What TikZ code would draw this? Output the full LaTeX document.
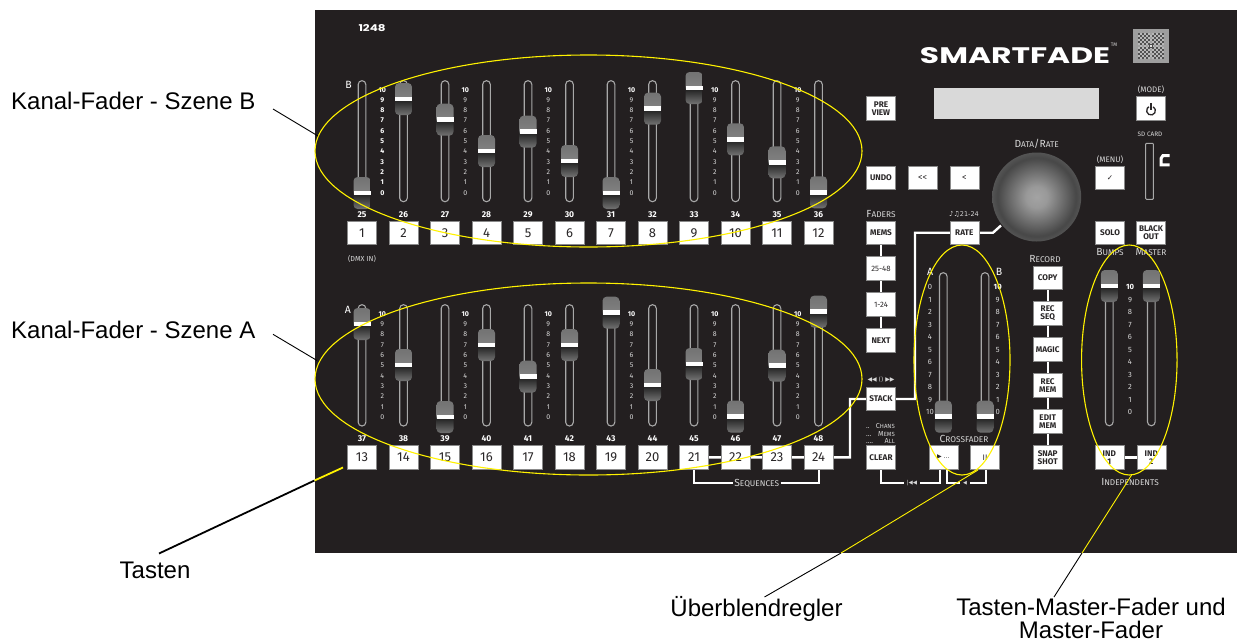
\documentclass[tikz,border=0pt]{standalone}
\usepackage{fontspec}
\usetikzlibrary{shapes.geometric,calc}
\setmainfont{Fira Sans}
\newfontfamily\labf{Liberation Sans}
\newfontfamily\djv{DejaVu Sans}
\newfontfamily\popf{Poppins}
\definecolor{panelc}{HTML}{231F20}
\definecolor{yel}{HTML}{FFF200}
\definecolor{trackc}{HTML}{A8A8A8}
\definecolor{keyedge}{HTML}{8A8A8A}
\definecolor{keytxt}{HTML}{2A2728}
\definecolor{silk}{HTML}{D8D8D8}
\pgfdeclareverticalshading{knobshade}{100bp}{
 color(0bp)=(black!68!white);
 color(6bp)=(black!55!white);
 color(25bp)=(black!55!white);
 color(47bp)=(black!85!white);
 color(53bp)=(black!50!white);
 color(75bp)=(black!55!white);
 color(100bp)=(black!72!white)}
\pgfdeclareradialshading{dialshade}{\pgfpoint{0bp}{0bp}}{
 color(0bp)=(black!36!white);
 color(6bp)=(black!40!white);
 color(22bp)=(black!72!white);
 color(36bp)=(black!50!white);
 color(44bp)=(black!65!white);
 color(50bp)=(black!85!white);
 color(100bp)=(black!85!white)}
\newcommand{\spc}[2]{{\fontsize{10.3}{11}\selectfont #1}{\fontsize{8.3}{9}\selectfont #2}}
\newcommand{\faderdraw}[4]{%
 \pgfmathsetmacro{\kt}{#4-16}\pgfmathsetmacro{\kb}{#4+16}%
 \pgfmathsetmacro{\kl}{#1-8.5}\pgfmathsetmacro{\kr}{#1+8.5}%
 \draw[trackline] (#1-3.8,#2) rectangle (#1+3.8,#3);
 \shade[shading=knobshade,rounded corners=4pt] (\kl,\kt) rectangle (\kr,\kb);
 \fill[white] (\kl,#4-2.4) rectangle (\kr,#4+2.4);
}
\tikzset{
 x=1pt,y=-1pt,
 trackline/.style={draw=trackc,line width=1.1pt,rounded corners=3.7pt},
 numkey/.style={draw=keyedge,fill=white,line width=.6pt,minimum width=29pt,minimum height=23.5pt,inner sep=0pt,text=keytxt,font=\fontsize{13}{13}\selectfont\fontseries{l}\selectfont},
 fnkey/.style={draw=keyedge,fill=white,line width=.6pt,minimum width=29pt,minimum height=23.5pt,inner sep=0pt,text=keytxt,align=center,font=\fontsize{8.2}{7.8}\selectfont\bfseries},
 silklbl/.style={text=silk,inner sep=0pt,font=\fontsize{8}{9}\selectfont},
 scaletxt/.style={text=silk,inner sep=0pt,font=\fontsize{7}{8}\selectfont},
 numlbl/.style={text=white,inner sep=0pt,font=\fontsize{8.5}{9}\selectfont\bfseries},
 wire/.style={draw=white,line width=2.4pt},
 bracket/.style={draw=white,line width=2pt},
 calloutlbl/.style={text=black,inner sep=0pt,align=center,font=\labf\fontsize{24}{22.5}\selectfont},
 ringy/.style={draw=yel,line width=1.1pt,ellipse,inner sep=0pt,fill=none},
 leaderk/.style={draw=black,line width=.9pt},
 leadery/.style={draw=yel,line width=.9pt},
}
\begin{document}
\begin{tikzpicture}
\useasboundingbox (0,0) rectangle (1239,643);
\fill[white] (0,0) rectangle (1239,643);
\fill[panelc] (315,10) rectangle (1237,553);
%
% channel faders
\foreach \idx/\barb in {0/193,1/99,2/119.7,3/151,4/131.7,5/161,6/193,7/108.7,8/88,9/139.3,10/162.3,11/192.3}{
 \pgfmathsetmacro{\fx}{362+41.5*\idx}
 \faderdraw{\fx}{80.7}{201.7}{\barb}
}
\foreach \idx/\barb in {0/324,1/365,2/417,3/345,4/376.7,5/345,6/312.7,7/385,8/364,9/416.7,10/365.7,11/311.7}{
 \pgfmathsetmacro{\fx}{362+41.5*\idx}
 \faderdraw{\fx}{304.7}{426}{\barb}
}
% crossfader and master faders
\faderdraw{943.3}{272.7}{426}{416.7}
\faderdraw{985}{272.7}{426}{416.7}
\faderdraw{1109.3}{272.7}{425.7}{286}
\faderdraw{1151.3}{272.7}{425.7}{286}
%
% wires behind the keys
\draw[wire] (694,457.3) -- (818.5,457.3) -- (850,457.3) -- (850,399) -- (915,399) -- (915,232.7) -- (964.3,232.7) -- (993,232.7) -- (1001,225.5);
\draw[wire] (881,232.7) -- (881,340.5);
\draw[wire] (1047.7,277.7) -- (1047.7,457.3);
\draw[wire] (1109.3,457.3) -- (1151.3,457.3);
%
% channel keys and numbers
\foreach \idx in {0,...,11}{
 \pgfmathsetmacro{\fx}{362+41.5*\idx}
 \pgfmathtruncatemacro{\ka}{\idx+1}
 \pgfmathtruncatemacro{\kc}{\idx+13}
 \pgfmathtruncatemacro{\na}{\idx+25}
 \pgfmathtruncatemacro{\nb}{\idx+37}
 \node[numkey] (key\ka) at (\fx,233) {\ka};
 \node[numkey] (key\kc) at (\fx,457.3) {\kc};
 \node[numlbl] (num\na) at (\fx,214.5) {\na};
 \node[numlbl] (num\nb) at (\fx,439) {\nb};
}
% scales
\foreach \cx [count=\cc] in {382.3,465.3,548.3,631.5,714.8,797.8}{
 \foreach \v in {0,...,10}{
  \pgfmathsetmacro{\ya}{192.7-10.3*\v}
  \pgfmathsetmacro{\yb}{417-10.3*\v}
  \ifnum\cc=1
   \node[scaletxt,text=white,font=\fontsize{7}{8}\selectfont\bfseries] (sa\cc-\v) at (\cx,\ya) {\v};
  \else\ifnum\v=10
   \node[scaletxt,text=white,font=\fontsize{7}{8}\selectfont\bfseries] (sa\cc-\v) at (\cx,\ya) {\v};
  \else
   \node[scaletxt] (sa\cc-\v) at (\cx,\ya) {\v};
  \fi\fi
  \ifnum\v=10
   \node[scaletxt,text=white,font=\fontsize{7}{8}\selectfont\bfseries] (sb\cc-\v) at (\cx,\yb) {\v};
  \else
   \node[scaletxt] (sb\cc-\v) at (\cx,\yb) {\v};
  \fi
 }
}
% three long scales
\foreach \v in {0,...,10}{
 \pgfmathsetmacro{\yc}{287+12.5*\v}
 \pgfmathsetmacro{\yd}{412-12.5*\v}
 \node[scaletxt,font=\fontsize{7.6}{8}\selectfont] (sc\v) at (930,\yc) {\v};
 \ifnum\v=10
  \node[scaletxt,text=white,font=\fontsize{7.6}{8}\selectfont\bfseries] (sd\v) at (997.7,\yd) {\v};
  \node[scaletxt,text=white,font=\fontsize{7.6}{8}\selectfont\bfseries] (se\v) at (1130,\yd) {\v};
 \else
  \node[scaletxt,font=\fontsize{7.6}{8}\selectfont] (sd\v) at (997.7,\yd) {\v};
  \node[scaletxt,font=\fontsize{7.6}{8}\selectfont] (se\v) at (1130,\yd) {\v};
 \fi
}
% letters
\node[silklbl,font=\fontsize{10.5}{11}\selectfont,text=white] (letB) at (348.5,85) {B};
\node[silklbl,font=\fontsize{10.5}{11}\selectfont,text=white] (letA) at (348,309.5) {A};
\node[silklbl,font=\fontsize{10.5}{11}\selectfont,text=white] (xletA) at (930,272) {A};
\node[silklbl,font=\fontsize{10.5}{11}\selectfont,text=white] (xletB) at (999,272) {B};
\node[silklbl,font=\fontsize{7.2}{8}\selectfont] (dmx) at (362,259) {(DMX IN)};
\node[inner sep=0pt,text=white] (model) at (372,28) {\resizebox{27pt}{7pt}{\popf\bfseries 1248}};
%
% logo, badge, display, dial
\node[inner sep=0pt,text=white] (logo) at (1015,56) {\resizebox{190pt}{16pt}{\popf\bfseries SMARTFADE}};
\node[silklbl,font=\fontsize{5}{5}\selectfont] (tm) at (1114,45) {TM};
\fill[black!38!white] (1133,29) rectangle (1169,63);
\foreach \i in {0,...,12}{\foreach \j in {0,...,12}{
 \pgfmathtruncatemacro{\parityval}{mod(\i+\j,2)}
 \ifnum\parityval=0
  \ifnum\i=6\else\ifnum\j=6\else
  \fill[black!68!white] ({1138+2*\i},{33+2*\j}) rectangle ++(2,2);
  \fi\fi
 \else
  \fill[black!28!white] ({1138+2*\i},{33+2*\j}) rectangle ++(2,2);
 \fi
}}
\fill[black!70!white] (1149,44) rectangle (1153,48);
\fill[black!12!white] (1150,45) rectangle (1152,47);
\fill[black!15!white] (934,88) rectangle (1099,119);
\shade[shading=dialshade] (1036.7,197) circle[radius=44.5pt];
%
% function keys
\node[fnkey] (preview) at (881,108.3) {PRE\\VIEW};
\node[fnkey] (undo) at (881,178) {UNDO};
\node[fnkey,font=\fontsize{9}{9}\selectfont] (back2) at (922.7,178) {<{}<};
\node[fnkey,font=\fontsize{9}{9}\selectfont] (back1) at (964.3,178) {<};
\node[fnkey] (mems) at (881,232.7) {MEMS};
\node[fnkey,font=\fontsize{7.8}{8}\selectfont] (f2548) at (881,268.5) {25-48};
\node[fnkey,font=\fontsize{7.8}{8}\selectfont] (f124) at (881,304.5) {1-24};
\node[fnkey] (next) at (881,340.5) {NEXT};
\node[fnkey] (stack) at (881,399) {STACK};
\node[fnkey] (clear) at (881,457.3) {CLEAR};
\node[fnkey] (rate) at (964.3,232.7) {RATE};
\node[fnkey] (mode) at (1151,108.3) {};
\draw[keytxt,line width=1.3pt] (1153.2,106.8) arc[start angle=60,end angle=-240,radius=4.4pt];
\draw[keytxt,line width=1.3pt] (1151,102.8) -- (1151,110);
\node[fnkey,font=\djv\fontsize{7.5}{8}\selectfont] (menu) at (1110,178) {✓};
\node[fnkey] (solo) at (1110,232.7) {SOLO};
\node[fnkey] (blackout) at (1151,232.7) {BLACK\\OUT};
\node[fnkey] (copy) at (1047.7,277.7) {COPY};
\node[fnkey] (recseq) at (1047.7,313.3) {REC\\SEQ};
\node[fnkey] (magic) at (1047.7,349.3) {MAGIC};
\node[fnkey] (recmem) at (1047.7,385.3) {REC\\MEM};
\node[fnkey] (editmem) at (1047.7,421.3) {EDIT\\MEM};
\node[fnkey] (snapshot) at (1047.7,457.3) {SNAP\\SHOT};
\node[fnkey,font=\djv\fontsize{6}{7}\selectfont] (xa) at (943.3,457.3) {▶ ...};
\node[fnkey,font=\fontsize{8}{8}\selectfont] (xb) at (985,457.3) {II};
\node[fnkey] (ind1) at (1109.3,457.3) {IND\\1};
\node[fnkey] (ind2) at (1151.3,457.3) {IND\\2};
%
% panel captions
\node[silklbl] (cfaders) at (881,214.3) {\spc{F}{ADERS}};
\node[silklbl] (cdata) at (1036.7,144) {\spc{D}{ATA}\spc{/R}{ATE}};
\node[silklbl] (cmode) at (1151,90) {(MODE)};
\node[silklbl] (cmenu) at (1110,160) {(MENU)};
\node[silklbl,font=\fontsize{6.4}{7}\selectfont] (csd) at (1150,134) {SD CARD};
\node[silklbl] (cbumps) at (1110,252) {\spc{B}{UMPS}};
\node[silklbl] (cmaster) at (1151,252) {\spc{M}{ASTER}};
\node[silklbl] (crecord) at (1045,259) {\spc{R}{ECORD}};
\node[silklbl] (ccross) at (964,439) {\spc{C}{ROSSFADER}};
\node[silklbl] (cindep) at (1130,482) {\spc{I}{NDEPENDENTS}};
\node[silklbl] (cseq) at (756.7,483.3) {\spc{S}{EQUENCES}};
\node[silklbl,font=\djv\fontsize{7}{7}\selectfont] (crate) at (964,214) {♪♫\fontsize{6.5}{7}\selectfont 21-24};
\node[silklbl,font=\djv\fontsize{6}{7}\selectfont] (cstack) at (881,380) {◀◀ () ▶▶};
\node[silklbl,anchor=base west,font=\fontsize{7}{7}\selectfont] (cch0) at (866,428.5) {..};
\node[silklbl,anchor=base east] (cch1) at (895,428.5) {{\fontsize{7.2}{7}\selectfont C}{\fontsize{6}{6}\selectfont HANS}};
\node[silklbl,anchor=base west,font=\fontsize{7}{7}\selectfont] (cme0) at (866,436) {...};
\node[silklbl,anchor=base east] (cme1) at (895,436) {{\fontsize{7.2}{7}\selectfont M}{\fontsize{6}{6}\selectfont EMS}};
\node[silklbl,anchor=base west,font=\fontsize{7}{7}\selectfont] (cal0) at (866,443.5) {....};
\node[silklbl,anchor=base east] (cal1) at (895,443.5) {{\fontsize{7.2}{7}\selectfont A}{\fontsize{6}{6}\selectfont LL}};
\node[silklbl,font=\djv\fontsize{5.5}{6}\selectfont] (crew) at (912,483) {|◀◀};
\node[silklbl,font=\djv\fontsize{5}{6}\selectfont] (cstep) at (965,483) {◀};
%
% brackets
\draw[bracket] (694,470) -- (694,483.3) -- (732.7,483.3);
\draw[bracket] (780.7,483.3) -- (819,483.3) -- (819,470);
\draw[bracket] (880.7,470) -- (880.7,482.7) -- (904,482.7);
\draw[bracket] (920,482.7) -- (940,482.7) -- (940,470);
\draw[bracket] (946.7,470) -- (946.7,482.7) -- (960,482.7);
\draw[bracket] (970,482.7) -- (986,482.7) -- (986,470);
%
% SD slot and card icon
\draw[draw=trackc,line width=1pt,rounded corners=.8pt] (1145.7,143.3) rectangle (1153.3,199.3);
\draw[white,line width=3pt] (1169.5,155.5) -- (1163,155.5) -- (1161,158.5) -- (1161,164.8) -- (1169.5,164.8);
%
% yellow rings
\node[ringy,minimum width=547pt,minimum height=192pt] (ringB) at (588.5,151) {};
\node[ringy,minimum width=547pt,minimum height=192pt] (ringA) at (588.5,379) {};
\node[ringy,minimum width=96pt,minimum height=230pt] (ringX) at (962,360) {};
\node[ringy,minimum width=95.5pt,minimum height=230pt] (ringM) at (1129.3,360) {};
%
% callouts
\node[calloutlbl,anchor=west] (lblB) at (11,101) {Kanal-Fader - Szene B};
\node[calloutlbl,anchor=west] (lblA) at (11,330) {Kanal-Fader - Szene A};
\node[calloutlbl] (lblT) at (155,570) {Tasten};
\node[calloutlbl] (lblU) at (756.5,609) {Überblendregler};
\node[calloutlbl] (lblM) at (1091,618.5) {Tasten-Master-Fader und\\Master-Fader};
\coordinate (cB0) at (273,109); \coordinate (cB1) at (318,136);
\coordinate (cA0) at (273,334.3); \coordinate (cA1) at (317,360.5);
\coordinate (cT0) at (159,553.5); \coordinate (cT1) at (314.5,480.5); \coordinate (cT2) at (343,467.5);
\coordinate (cU0) at (764.5,597); \coordinate (cU1) at (841,553); \coordinate (cU2) at (978,470);
\coordinate (cM0) at (1054,597); \coordinate (cM1) at (1082,553); \coordinate (cM2) at (1131.6,475);
\draw[leaderk] (cB0) -- (cB1);
\draw[leaderk] (cA0) -- (cA1);
\draw[leaderk,line width=1.8pt] (cT0) -- (cT1);
\draw[leadery,line width=1.8pt] (cT1) -- (cT2);
\draw[leaderk] (cU0) -- (cU1);
\draw[leadery] (cU1) -- (cU2);
\draw[leaderk] (cM0) -- (cM1);
\draw[leadery] (cM1) -- (cM2);
\end{tikzpicture}
\end{document}
